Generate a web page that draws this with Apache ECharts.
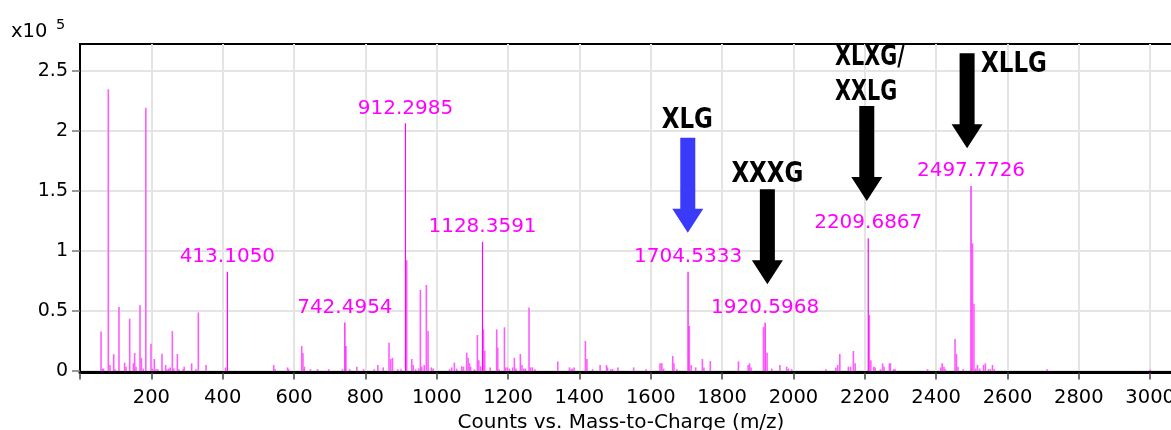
<!DOCTYPE html>
<html><head><meta charset="utf-8">
<script src="https://cdn.jsdelivr.net/npm/echarts@6/dist/echarts.min.js"></script>
<style>html,body{margin:0;padding:0;background:#fff}#c{width:1171px;height:430px}</style>
</head><body><div id="c"></div>
<script>
// ---- data (intensities in units of 1e5 counts) ----
const peakMz = [59,63,66,79.4,84,94.4,98,109.3,125,129,139.3,149.5,153.2,157,168.2,172,177.5,184.5,199,203,208.4,213,218,229.9,240,244,249,253,258.9,263,272.9,277,289,292,313,325,331.7,353.3,408.4,543,547,582,585,621.5,625,629,646,666,697,736,745.5,756,776,795,825,835,850,866.3,871,876,891,900,915.8,930,934,941,950,954.2,958,965,971,975.7,985,990,1036,1042,1049.5,1056,1070,1075,1084,1088,1092,1095,1106,1113.9,1118,1123,1131,1134.6,1150,1168.2,1171,1175,1189.8,1193,1198,1204,1213,1217.7,1222,1234.5,1239,1244,1249,1258.8,1263,1268,1275,1339.3,1372,1377,1380,1385,1416.8,1421,1437,1458,1476,1479,1488,1493,1508,1552,1587,1626,1631,1636,1661.7,1665,1673,1708,1713,1726,1744.7,1749,1767,1845.7,1873,1877,1881,1916,1926,1939,1962,1981,1986,1995,2091,2119,2124,2130,2154,2160,2168,2173,2212.5,2217,2225,2229,2244,2250,2254,2269,2272,2281,2285,2376,2413,2417,2422,2426,2453,2457,2461,2476,2502,2506,2511,2516,2522,2533,2538,2547,2552,2558,2563,2711,3000];
const peakInt = [0.33,0.02,0.02,2.347,0.05,0.14,0.015,0.533,0.07,0.035,0.436,0.064,0.15,0.036,0.548,0.11,0.02,2.194,0.227,0.02,0.1,0.015,0.015,0.143,0.05,0.015,0.02,0.03,0.333,0.02,0.142,0.015,0.015,0.036,0.064,0.015,0.488,0.05,0.03,0.05,0.015,0.03,0.015,0.208,0.147,0.036,0.015,0.015,0.015,0.015,0.208,0.015,0.036,0.015,0.015,0.05,0.03,0.236,0.1,0.11,0.015,0.015,0.923,0.1,0.05,0.015,0.02,0.675,0.036,0.05,0.717,0.333,0.03,0.02,0.015,0.03,0.07,0.02,0.04,0.036,0.153,0.11,0.064,0.036,0.015,0.3,0.09,0.04,0.347,0.17,0.03,0.347,0.195,0.015,0.364,0.03,0.03,0.02,0.03,0.11,0.02,0.142,0.05,0.02,0.02,0.53,0.03,0.03,0.015,0.08,0.03,0.015,0.02,0.03,0.25,0.1,0.015,0.05,0.05,0.03,0.015,0.015,0.03,0.03,0.015,0.064,0.064,0.02,0.125,0.064,0.015,0.375,0.05,0.03,0.1,0.03,0.083,0.08,0.05,0.064,0.03,0.367,0.153,0.02,0.05,0.036,0.02,0.015,0.015,0.03,0.05,0.142,0.036,0.036,0.167,0.064,0.467,0.09,0.036,0.03,0.015,0.064,0.036,0.064,0.064,0.015,0.015,0.015,0.03,0.064,0.036,0.015,0.267,0.142,0.036,0.015,1.064,0.56,0.02,0.05,0.02,0.05,0.064,0.015,0.015,0.05,0.015,0.015,0.012];
const labeledMz = [413.1050,742.4954,912.2985,1128.3591,1704.5333,1920.5968,2209.6867,2497.7726];
const labeledInt = [0.828,0.405,2.064,1.076,0.828,0.403,1.107,1.542];
const xTickValues = [0,200,400,600,800,1000,1200,1400,1600,1800,2000,2200,2400,2600,2800,3000];
const xLabelValues = [200,400,600,800,1000,1200,1400,1600,1800,2000,2200,2400,2600,2800,3000];
const yTickValues = [0,0.5,1,1.5,2,2.5];
const xAxisTitle = 'Counts vs. Mass-to-Charge (m/z)';
const scaleText = 'x10';
const scaleExp = '5';
// annotation arrows: label lines, tip m/z, tip intensity
const annotLines = [['XLG'],['XXXG'],['XLXG/','XXLG'],['XLLG']];
const arrowMz = [1703.8,1926.9,2205.6,2486.8];
const arrowTipInt = [1.1525,0.7225,1.4167,1.8558];

// ---- styles / layout ----
const FONT = '"DejaVu Sans", Verdana, sans-serif';
const arrowColors = ['#3a3afb','#000','#000','#000'];
const ARROW = {len: 95, shaftW: 15, headW: 31, headH: 24};
const annotLayout = [
  [{dx:-0.5, db:-7.3, align:'center'}],
  [{dx:0, db:-5, align:'center'}],
  [{dx:-31.7, db:-38.4, align:'left'},{dx:-31.7, db:-3.4, align:'left'}],
  [{dx:14, db:21, align:'left'}]
];
const annotScaleX = [0.82,0.82,0.74,0.82];
const ANNOT_FS = 28;

const chart = echarts.init(document.getElementById('c'), null, {renderer:'canvas'});
const option = {
  animation: false,
  backgroundColor: '#fff',
  grid: {left: 80, right: -2, top: 44, bottom: 59, show: true, borderColor: '#000', borderWidth: 2,
         containLabel: false, outerBoundsMode: 'none'},
  xAxis: {
    type: 'value', min: 0, max: 3064,
    interval: 200,
    offset: 1.5,
    name: xAxisTitle, nameLocation: 'middle', nameGap: 37,
    nameTextStyle: {fontFamily: FONT, fontSize: 20, color: '#000', padding: [0, 11, 0, 0]},
    axisLine: {show: true, onZero: false, lineStyle: {color: '#000', width: 3}},
    axisTick: {show: true, length: 7, customValues: xTickValues, lineStyle: {color: '#444', width: 1.5}},
    axisLabel: {customValues: xLabelValues, margin: 15, fontFamily: FONT, fontSize: 19.5, color: '#000', formatter: v => String(v)},
    splitLine: {show: true, lineStyle: {color: '#e4e4e4', width: 2}}
  },
  yAxis: {
    type: 'value', min: 0, max: 2.725, interval: 0.5,
    axisLine: {show: true, lineStyle: {color: '#000', width: 2}},
    axisTick: {show: true, length: 8, customValues: yTickValues, lineStyle: {color: '#777', width: 1.5}},
    axisLabel: {customValues: yTickValues, margin: 12, fontFamily: FONT, fontSize: 19, color: '#000', formatter: v => String(v)},
    splitLine: {show: true, lineStyle: {color: '#e4e4e4', width: 2}}
  },
  series: [
    {
      type: 'custom', name: 'spectrum',
      data: peakMz.map((m, i) => [m, peakInt[i]]),
      encode: {x: 0, y: 1},
      clip: true, z: 2,
      renderItem: (params, api) => {
        const b = api.coord([api.value(0), 0]);
        const t = api.coord([api.value(0), api.value(1)]);
        return {type: 'rect', shape: {x: b[0] - 0.8, y: t[1], width: 1.6, height: b[1] - t[1]}, style: {fill: '#ff5cff'}};
      }
    },
    {
      type: 'bar', name: 'labeled peaks',
      data: labeledMz.map((m, i) => [m, labeledInt[i]]),
      barWidth: 1.2, z: 3,
      itemStyle: {color: '#ff00ff'},
      label: {show: true, position: 'top', distance: 5, fontFamily: FONT, fontSize: 20, color: '#ff00ff',
              formatter: p => p.value[0].toFixed(4)}
    }
  ]
};
chart.setOption(option);

function toPx(mz, v) { return chart.convertToPixel({seriesIndex: 0}, [mz, v]); }
const graphics = [];
graphics.push({type: 'text', x: 11, y: 31.5, style: {text: scaleText, x: 0, y: 0, font: '19.5px ' + FONT, fill: '#000', align: 'left', textAlign: 'left', verticalAlign: 'middle', textVerticalAlign: 'middle'}});
graphics.push({type: 'text', x: 56, y: 25.1, style: {text: scaleExp, x: 0, y: 0, font: '14.5px ' + FONT, fill: '#000', align: 'left', textAlign: 'left', verticalAlign: 'middle', textVerticalAlign: 'middle'}});
arrowMz.forEach((m, i) => {
  const [tx, ty] = toPx(m, arrowTipInt[i]);
  const top = ty - ARROW.len, hy = ty - ARROW.headH;
  const sw = ARROW.shaftW / 2, hw = ARROW.headW / 2;
  graphics.push({type: 'polygon', z: 10, shape: {points: [[tx - sw, top], [tx + sw, top], [tx + sw, hy], [tx + hw, hy], [tx, ty], [tx - hw, hy], [tx - sw, hy]]}, style: {fill: arrowColors[i]}});
  annotLines[i].forEach((txt, j) => {
    const L = annotLayout[i][j];
    const baseline = top + L.db;
    graphics.push({type: 'text', z: 10, x: tx + L.dx, y: baseline - 0.346 * ANNOT_FS, scaleX: annotScaleX[i],
      style: {text: txt, x: 0, y: 0, font: 'bold ' + ANNOT_FS + 'px ' + FONT, fill: '#000', align: L.align, textAlign: L.align, verticalAlign: 'middle', textVerticalAlign: 'middle'}});
  });
});
chart.setOption({graphic: {elements: graphics}});
</script></body></html>
